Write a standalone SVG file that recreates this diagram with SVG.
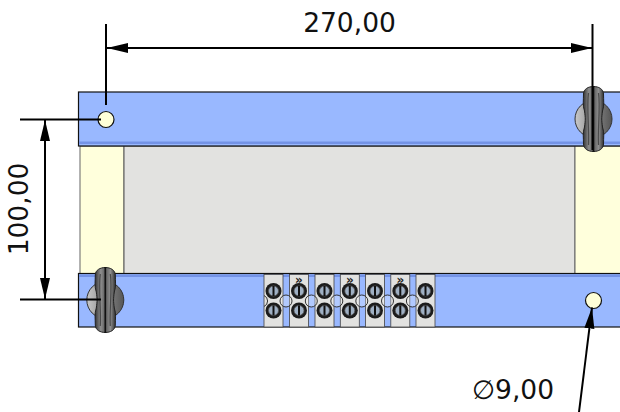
<svg xmlns="http://www.w3.org/2000/svg" width="620" height="412" viewBox="0 0 620 412">
<style>
.bar{fill:#99b8ff;stroke:#111;stroke-width:1.2}
.lip{fill:#7493e6;stroke:none}
.yel{fill:#ffffdc;stroke:#666;stroke-width:1}
.hole{fill:#ffffd8;stroke:#111;stroke-width:1.2}
.dim{stroke:#000;stroke-width:2;fill:none}
.txt{font-family:"DejaVu Sans",sans-serif;font-size:26.5px;fill:#111}
.blk{fill:#e2e2e0;stroke:#444;stroke-width:.8}
.ring{fill:#fff;fill-opacity:.25;stroke:#333;stroke-width:1}
.chev{font-family:"DejaVu Sans",sans-serif;font-size:12px;font-weight:bold;fill:#222}
</style>
<defs>
<linearGradient id="disk" x1="0" x2="1" y1="0" y2="0"><stop offset="0" stop-color="#c8c8c8"/><stop offset=".5" stop-color="#8c8c8c"/><stop offset="1" stop-color="#555"/></linearGradient>
<linearGradient id="grip" x1="0" x2="1" y1="0" y2="0"><stop offset="0" stop-color="#333"/><stop offset=".28" stop-color="#8f8f8f"/><stop offset=".5" stop-color="#5a5a5a"/><stop offset=".75" stop-color="#8f8f8f"/><stop offset="1" stop-color="#2e2e2e"/></linearGradient>
<marker id="ah" markerUnits="userSpaceOnUse" markerWidth="22" markerHeight="12" refX="21" refY="5" orient="auto-start-reverse" viewBox="0 0 22 10"><path d="M0 0L21 5L0 10z" fill="#000"/></marker>
<g id="knob">
<circle r="18.5" fill="url(#disk)" stroke="#333" stroke-width="1"/>
<path d="M-10-25C-10-35 10-35 10-25C10-18 11-14 9-8C8 0 8 0 9 8C11 14 10 18 10 25C10 35-10 35-10 25C-10 18-11 14-9 8C-8 0-8 0-9-8C-11-14-10-18-10-25z" fill="url(#grip)" stroke="#222" stroke-width="1"/>
<path d="M-5-26C-7-12-4 12-5 26M5-26C7-12 4 12 5 26" stroke="#4a4a4a" stroke-width="1.2" fill="none"/>
<path d="M0-33V33" stroke="#111" stroke-width="1.6"/>
</g>
<g id="screw">
<circle r="8" fill="#1c1c1c"/>
<circle r="5" fill="#9fb0c4" stroke="#555" stroke-width=".8"/>
<path d="M0-5V5" stroke="#111" stroke-width="2"/>
</g>
<g id="block">
<rect x="0" y="0" width="19" height="52.5" class="blk"/>
<use href="#screw" x="9.5" y="16.5"/>
<use href="#screw" x="9.5" y="36"/>
</g>
</defs>

<g id="panel">
<rect class="yel" x="80" y="146" width="44" height="128"/>
<rect x="124" y="146" width="451" height="128" fill="#e2e2e0" stroke="#555" stroke-width="1"/>
<rect class="yel" x="575" y="146" width="46" height="128"/>
</g>

<g id="rail-top">
<rect class="bar" x="78.5" y="92" width="543" height="54"/>
<rect class="lip" x="79" y="141.5" width="542" height="2.5"/>
<circle class="hole" cx="106" cy="119.5" r="8"/>
</g>
<g id="rail-bottom">
<rect class="bar" x="78.5" y="273.5" width="543" height="53.5"/>
<rect class="lip" x="79" y="274.5" width="542" height="2.5"/>
<circle class="hole" cx="593.5" cy="300.5" r="8"/>
</g>

<g id="terminals">
<use href="#block" x="264" y="274.5"/>
<use href="#block" x="289.5" y="274.5"/>
<use href="#block" x="315" y="274.5"/>
<use href="#block" x="340.3" y="274.5"/>
<use href="#block" x="365.5" y="274.5"/>
<use href="#block" x="390.8" y="274.5"/>
<use href="#block" x="416" y="274.5"/>
<circle class="ring" cx="286" cy="301" r="6"/>
<circle class="ring" cx="311.3" cy="301" r="6"/>
<circle class="ring" cx="336.8" cy="301" r="6"/>
<circle class="ring" cx="361.8" cy="301" r="6"/>
<circle class="ring" cx="387.5" cy="301" r="6"/>
<circle class="ring" cx="412.4" cy="301" r="6"/>
<path d="M264 295.5A6 6 0 0 1 264 306.5" fill="none" stroke="#333" stroke-width="1"/>
<text class="chev" x="299" y="284" text-anchor="middle">»</text>
<text class="chev" x="349.8" y="284" text-anchor="middle">»</text>
<text class="chev" x="400.3" y="284" text-anchor="middle">»</text>
</g>

<g id="knob-left"><use href="#knob" x="105.3" y="300"/></g>
<g id="knob-right"><use href="#knob" x="593.5" y="119"/></g>

<g id="connectors">
<path class="dim" d="M106 24V105"/>
<path class="dim" d="M592.5 24V150"/>
<path class="dim" d="M107 48H592" marker-start="url(#ah)" marker-end="url(#ah)"/>
<path class="dim" d="M20 119.5H101"/>
<path class="dim" d="M20 299.5H101"/>
<path class="dim" d="M45 120V299" marker-start="url(#ah)" marker-end="url(#ah)"/>
<path class="dim" d="M579 412L592 307.5" marker-end="url(#ah)"/>
</g>

<g id="labels">
<text class="txt" x="349.5" y="32" text-anchor="middle">270,00</text>
<text class="txt" transform="translate(27.5 209) rotate(-90)" text-anchor="middle">100,00</text>
<text class="txt" x="472" y="399">∅9,00</text>
</g>
</svg>
